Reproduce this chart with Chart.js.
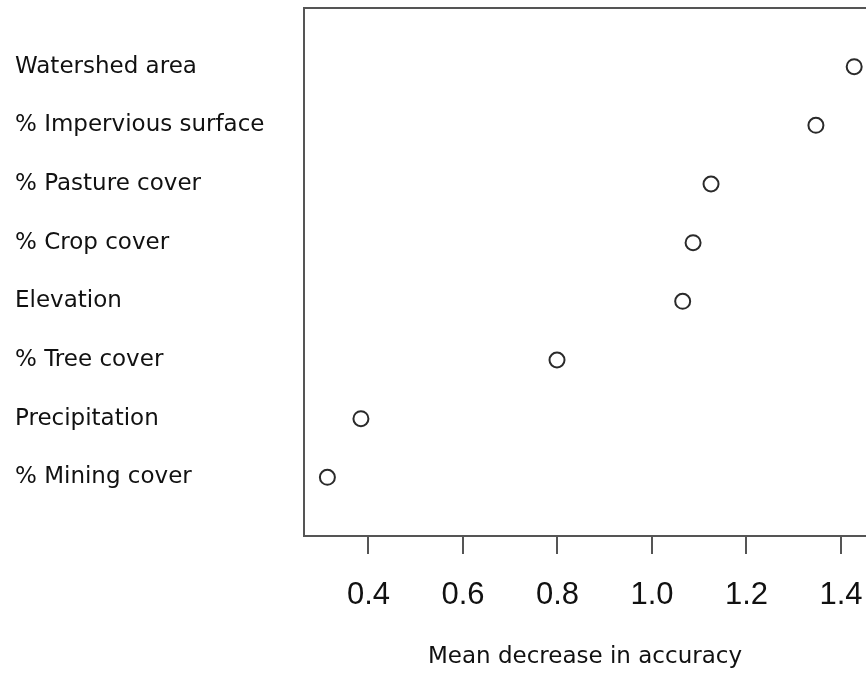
<!DOCTYPE html>
<html>
<head>
<meta charset="utf-8">
<script src="https://cdn.jsdelivr.net/npm/chart.js@4/dist/chart.umd.min.js"></script>
<style>
  body { margin: 0; background: #fff; }
  #wrap { width: 866px; height: 675px; }
</style>
</head>
<body>
<div id="wrap"><canvas id="myChart" width="866" height="675"></canvas></div>
<script>
// variables, bottom to top as in the dot chart
const variables = ["% Mining cover", "Precipitation", "% Tree cover", "Elevation",
                   "% Crop cover", "% Pasture cover", "% Impervious surface", "Watershed area"];
const accuracy = [0.313, 0.384, 0.799, 1.065, 1.087, 1.125, 1.347, 1.428];
const xTicks = [0.4, 0.6, 0.8, 1.0, 1.2, 1.4];

function puntos(){
    let data = [];
    for(let i=0;i<variables.length;i++){
        data.push({x: accuracy[i], y: i+1});
    }
    return data;
}

// top line of the box (R draws a frame)
const marco = {
    id: 'marco',
    afterDraw(chart){
        const a = chart.chartArea;
        const ctx = chart.ctx;
        ctx.save();
        ctx.strokeStyle = '#555';
        ctx.lineWidth = 2;
        ctx.beginPath();
        ctx.moveTo(a.left - 1, a.top);
        ctx.lineTo(a.right, a.top);
        ctx.stroke();
        ctx.restore();
    }
};

function graficos(){
    const ctx = document.getElementById('myChart').getContext('2d');
    const myChart = new Chart(ctx, {
    type: 'scatter',
    data: {
        datasets: [{
            label: 'Mean decrease in accuracy',
            data: puntos(),
            pointStyle: 'circle',
            pointRadius: 7.5,
            pointHoverRadius: 7.5,
            borderWidth: 2,
            borderColor: '#2a2a2a',
            backgroundColor: '#fff',
            clip: false
        }]
    },
    options: {
        responsive: false,
        animation: false,
        events: [],
        layout: { autoPadding: false, padding: { left: 15, top: 8, right: 0, bottom: 0 } },
        scales: {
            x: {
                type: 'linear',
                min: 0.2635,
                max: 1.453,
                afterBuildTicks: (s) => { s.ticks = xTicks.map(v => ({value: v})); },
                afterFit: (s) => { s.height = 139; s.paddingLeft = 0; s.paddingRight = 0; },
                grid: { drawOnChartArea: false, drawTicks: true, tickLength: 18, tickColor: '#555', lineWidth: 2 },
                border: { display: true, color: '#555', width: 2 },
                ticks: {
                    padding: 23,
                    color: '#111',
                    font: { family: 'Liberation Sans, Arial, sans-serif', size: 31 },
                    callback: (v) => v.toFixed(1)
                },
                title: {
                    display: true,
                    text: 'Mean decrease in accuracy',
                    color: '#111',
                    font: { family: 'DejaVu Sans, sans-serif', size: 23 }
                }
            },
            y: {
                type: 'linear',
                min: 0,
                max: 9,
                afterBuildTicks: (s) => { s.ticks = variables.map((v, i) => ({value: i+1})); },
                afterFit: (s) => { s.width = 289; s.paddingTop = 0; s.paddingBottom = 0; },
                grid: { display: false },
                border: { display: true, color: '#555', width: 2 },
                ticks: {
                    crossAlign: 'far',
                    color: '#111',
                    font: { family: 'DejaVu Sans, sans-serif', size: 23 },
                    callback: (v) => variables[v-1]
                }
            }
        },
        plugins: {
            legend: { display: false },
            tooltip: { enabled: false }
        }
    },
    plugins: [marco]
});
}

window.addEventListener("load", graficos);
</script>
</body>
</html>
